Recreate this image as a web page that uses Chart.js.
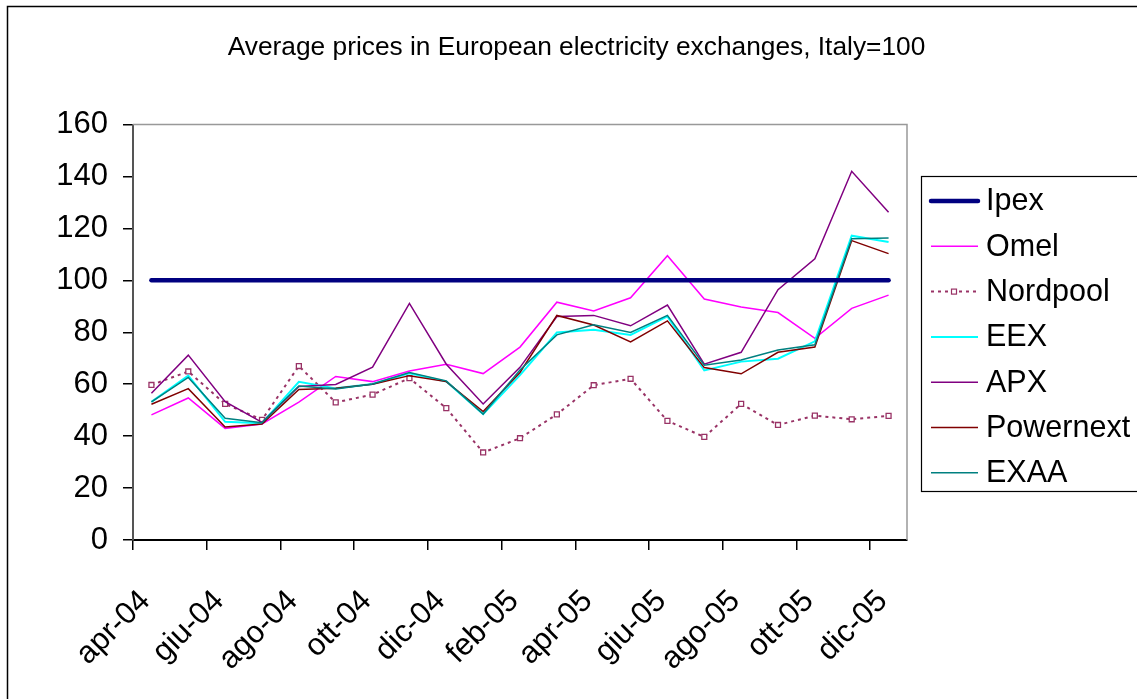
<!DOCTYPE html>
<html>
<head>
<meta charset="utf-8">
<script src="https://cdn.jsdelivr.net/npm/chart.js@4"></script>
<style>
  body { margin: 0; background: #fff; }
</style>
</head>
<body>
<canvas id="prices" width="1137" height="699"></canvas>
<script>
// months, apr-04 .. dic-05
var months = ['apr-04', 'mag-04', 'giu-04', 'lug-04', 'ago-04', 'set-04', 'ott-04',
              'nov-04', 'dic-04', 'gen-05', 'feb-05', 'mar-05', 'apr-05', 'mag-05',
              'giu-05', 'lug-05', 'ago-05', 'set-05', 'ott-05', 'nov-05', 'dic-05'];

// index values, Italy (Ipex) = 100
var ipex      = [100, 100, 100, 100, 100, 100, 100, 100, 100, 100, 100,
                 100, 100, 100, 100, 100, 100, 100, 100, 100, 100];
var omel      = [48.2, 54.7, 43.0, 44.7, 53.1, 63.0, 61.0, 65.1, 67.7, 64.1, 74.3,
                 91.6, 88.2, 93.3, 109.5, 92.8, 89.7, 87.6, 77.7, 89.2, 94.3];
var nordpool  = [59.7, 64.9, 52.4, 46.3, 67.0, 53.0, 56.0, 62.3, 50.8, 33.7, 39.2,
                 48.4, 59.6, 62.1, 45.9, 39.7, 52.4, 44.3, 47.9, 46.5, 47.8];
var eex       = [53.2, 63.3, 45.5, 45.0, 60.9, 58.4, 60.1, 64.2, 61.0, 48.5, 63.5,
                 79.9, 81.0, 79.0, 86.1, 65.3, 68.7, 69.8, 76.5, 117.2, 114.8];
var apx       = [56.5, 71.2, 53.3, 45.3, 59.1, 59.9, 66.6, 91.1, 67.7, 52.4, 66.5,
                 86.1, 86.5, 82.5, 90.5, 67.7, 72.3, 96.4, 108.3, 142.0, 126.2];
var powernext = [52.3, 58.3, 43.5, 44.7, 58.0, 58.4, 60.0, 63.3, 61.0, 49.5, 64.5,
                 86.5, 82.8, 76.3, 84.4, 66.4, 64.0, 72.3, 74.3, 115.3, 110.3];
var exaa      = [53.2, 62.6, 46.9, 45.2, 59.3, 58.2, 60.1, 64.5, 61.3, 48.5, 65.5,
                 79.0, 82.9, 79.9, 86.5, 67.3, 69.3, 73.2, 75.2, 116.0, 116.3];

var yTicks = [0, 20, 40, 60, 80, 100, 120, 140, 160];

var FONT = 'Liberation Sans, Arial, sans-serif';

function line(label, data, color, width, order) {
    return {
        label: label,
        data: data,
        borderColor: color,
        backgroundColor: color,
        borderWidth: width,
        pointRadius: 0,
        tension: 0,
        order: order
    };
}

var datasets = [
    Object.assign(line('Ipex', ipex, '#000080', 4.5, 0), { borderCapStyle: 'round' }),
    line('Omel', omel, '#ff00ff', 1.5, 6),
    Object.assign(line('Nordpool', nordpool, '#993366', 2, 5), {
        borderDash: [3, 4],
        pointStyle: 'rect',
        pointRadius: 3.5,
        pointBorderColor: '#993366',
        pointBackgroundColor: '#ffffff',
        pointBorderWidth: 1.3
    }),
    line('EEX', eex, '#00ffff', 2, 4),
    line('APX', apx, '#800080', 1.5, 3),
    line('Powernext', powernext, '#800000', 1.5, 2),
    line('EXAA', exaa, '#008080', 1.5, 1)
];

// white page, outer frame, plot-area border and boxed legend
var frame = {
    id: 'frame',
    beforeDraw: function (chart) {
        var ctx = chart.ctx;
        ctx.save();
        ctx.fillStyle = '#fff';
        ctx.fillRect(0, 0, chart.width, chart.height);
        ctx.strokeStyle = '#000';
        ctx.lineWidth = 1.5;
        ctx.strokeRect(7.5, 6.5, 1200, 800);
        ctx.restore();
    },
    beforeDatasetsDraw: function (chart) {
        var a = chart.chartArea, ctx = chart.ctx;
        ctx.save();
        ctx.strokeStyle = '#999';
        ctx.lineWidth = 1.5;
        ctx.beginPath();
        ctx.moveTo(a.left, a.top);
        ctx.lineTo(a.right, a.top);
        ctx.lineTo(a.right, a.bottom);
        ctx.stroke();
        ctx.restore();
    },
    afterDraw: function (chart) {
        var ctx = chart.ctx;
        ctx.save();
        ctx.strokeStyle = '#000';
        ctx.lineWidth = 1.2;
        ctx.strokeRect(921.5, 176.5, 240, 315);
        chart.data.datasets.forEach(function (ds, i) {
            var y = 201 + i * 45.3;
            ctx.beginPath();
            ctx.strokeStyle = ds.borderColor;
            ctx.lineWidth = ds.borderWidth;
            ctx.lineCap = ds.borderCapStyle || 'butt';
            ctx.setLineDash(ds.borderDash || []);
            ctx.moveTo(931, y);
            ctx.lineTo(978, y);
            ctx.stroke();
            ctx.setLineDash([]);
            if (ds.pointRadius > 0) {
                ctx.fillStyle = '#fff';
                ctx.lineWidth = 1.2;
                ctx.fillRect(951.5, y - 2.5, 5, 5);
                ctx.strokeRect(951.5, y - 2.5, 5, 5);
            }
            ctx.fillStyle = '#000';
            ctx.font = '30.5px ' + FONT;
            ctx.textBaseline = 'middle';
            ctx.fillText(ds.label, 986, y + 1);
        });
        ctx.restore();
    }
};

new Chart(document.getElementById('prices').getContext('2d'), {
    type: 'line',
    data: { labels: months, datasets: datasets },
    plugins: [frame],
    options: {
        responsive: false,
        animation: false,
        devicePixelRatio: 1,
        layout: { padding: { left: 16, right: 0, top: 0, bottom: 0 } },
        plugins: {
            legend: { display: false },
            tooltip: { enabled: false },
            title: {
                display: true,
                text: 'Average prices in European electricity exchanges, Italy=100',
                color: '#000',
                font: { family: FONT, size: 26.3, weight: 'normal' },
                padding: { top: 32, bottom: 61 }
            }
        },
        scales: {
            x: {
                offset: true,
                grid: {
                    offset: true,
                    drawOnChartArea: false,
                    tickLength: 10,
                    lineWidth: 1.5,
                    color: function (c) { return c.index % 2 === 0 ? '#000' : 'rgba(0,0,0,0)'; }
                },
                border: { color: '#000', width: 2 },
                ticks: {
                    autoSkip: false,
                    maxRotation: 45,
                    minRotation: 45,
                    padding: 33,
                    labelOffset: -6,
                    color: '#000',
                    font: { family: FONT, size: 31 },
                    callback: function (v, i) { return i % 2 === 0 ? months[i] : ''; }
                },
                afterFit: function (s) { s.height = 159; }
            },
            y: {
                min: 0,
                max: 160,
                afterBuildTicks: function (s) {
                    s.ticks = yTicks.map(function (v) { return { value: v }; });
                },
                grid: { drawOnChartArea: false, tickLength: 10, lineWidth: 1.5, color: '#000' },
                border: { color: '#555', width: 2 },
                ticks: {
                    padding: 15,
                    color: '#000',
                    font: { family: FONT, size: 31 }
                },
                afterFit: function (s) { s.width = 117; }
            },
            side: {
                position: 'right',
                display: true,
                grid: { display: false },
                border: { display: false },
                ticks: { display: false },
                afterFit: function (s) { s.width = 230; }
            }
        }
    }
});
</script>
</body>
</html>
